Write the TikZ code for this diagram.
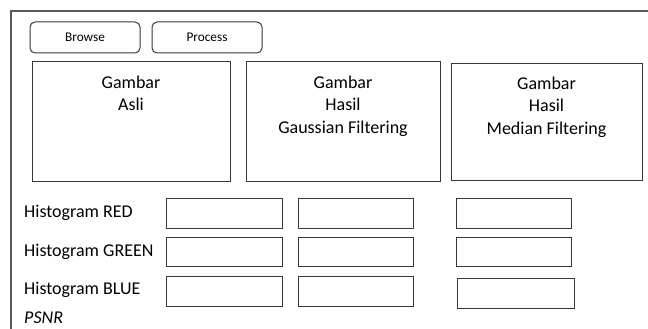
\documentclass[tikz,border=0pt]{standalone}
\usepackage{fontspec}
\setmainfont{Carlito}
\usetikzlibrary{positioning}

\tikzset{
  panel/.style={draw=black!78, line width=1pt, rectangle, inner sep=0pt},
  button/.style={panel, rounded corners=5pt, minimum width=110pt, minimum height=31pt,
    font=\fontsize{13.3}{16}\selectfont},
  imgbox/.style={panel, minimum height=119pt},
  histbox/.style={panel, minimum width=116pt, minimum height=29.5pt},
  caption/.style={align=center, inner sep=0pt, font=\fontsize{18}{22.7}\selectfont},
  rowlabel/.style={anchor=west, inner sep=0pt, font=\fontsize{18}{22}\selectfont}
}

\begin{document}
\begin{tikzpicture}[x=1pt,y=-1pt]
\useasboundingbox (0,0) rectangle (648,329);
% window frame
\draw[draw=black!65, line width=1.3pt] (648,11) -- (11,11) -- (11,329);

% buttons
\node[button] (browse)  at (85,37.5)  {Browse};
\node[button] (process) at (207,37.5) {Process};

% image panels
\node[imgbox, minimum width=198pt] (img_asli)     at (131,121.5) {};
\node[imgbox, minimum width=194pt] (img_gaussian) at (343,121.5) {};
\node[imgbox, minimum width=191pt, minimum height=116pt] (img_median) at (546.5,122) {};

\node[caption, anchor=north, below=14pt of img_asli.north]     (cap_asli)     {Gambar\\Asli};
\node[caption, anchor=north, below=14pt of img_gaussian.north] (cap_gaussian) {Gambar\\Hasil\\Gaussian Filtering};
\node[caption, anchor=north, below=13pt of img_median.north]   (cap_median)   {Gambar\\Hasil\\Median Filtering};

% histogram rows
\node[rowlabel] (lbl_red)   at (24,213) {Histogram RED};
\node[rowlabel] (lbl_green) at (24,252) {Histogram GREEN};
\node[rowlabel] (lbl_blue)  at (24,290) {Histogram BLUE};
\node[rowlabel] (lbl_psnr)  at (24,318) {\itshape PSNR};

\node[histbox] (red_asli)       at (224,213.5)   {};
\node[histbox] (green_asli)     at (224,252)     {};
\node[histbox] (blue_asli)      at (224,291.5)   {};

\node[histbox, minimum width=115pt] (red_gaussian)   at (355.5,213.5) {};
\node[histbox, minimum width=115pt] (green_gaussian) at (355.5,252)   {};
\node[histbox, minimum width=115pt] (blue_gaussian)  at (355.5,291.5) {};

\node[histbox, minimum width=115pt] (red_median)     at (513.5,213.5) {};
\node[histbox, minimum width=115pt] (green_median)   at (513.5,252)   {};
\node[histbox, minimum width=117pt] (blue_median)    at (515.5,293.5) {};
\end{tikzpicture}
\end{document}
